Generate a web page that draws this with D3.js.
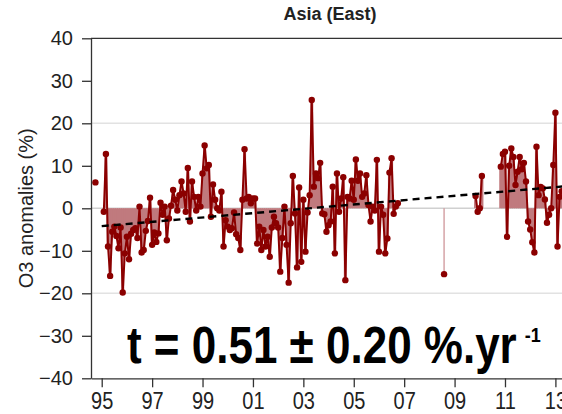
<!DOCTYPE html>
<html>
<head>
<meta charset="utf-8">
<script src="https://cdn.jsdelivr.net/npm/d3@7"></script>
<style>
  html, body { margin: 0; padding: 0; background: #fff; }
  svg { display: block; font-family: "Liberation Sans", Arial, Helvetica, sans-serif; }
</style>
</head>
<body>
<svg id="chart" width="562" height="414"></svg>
<script>
// Monthly ozone anomalies (%), series starts October 1994; null = no observation
const seriesStart = { year: 1994, month: 10 };
const anomalies = [
  /* 1994 Oct-Dec */ 6.1, null, null,
  /* 1995 */ null, -0.8, 12.8, -9.0, -15.9, -5.5, -4.3, -6.5, -9.4, -4.5, -19.8, -10.6,
  /* 1996 */ -6.7, -12.0, -6.0, -5.1, -4.7, -7.0, 0.4, -10.4, -9.8, -5.3, -3.0, 2.5,
  /* 1997 */ -8.6, -5.7, -7.9, -5.9, 1.3, -1.5, 0.4, -7.5, -2.4, 0.6, 4.3, 2.0,
  /* 1998 */ -0.5, 3.1, 6.3, 3.5, -0.8, 9.5, -3.1, 6.3, 2.7, -0.5, 2.7, 0.4,
  /* 1999 */ 8.2, 14.8, 9.4, 10.2, -2.0, 5.6, 2.0, 0.0, -0.5, 3.9, -9.0, -2.8,
  /* 2000 */ -4.3, -5.1, -4.7, -1.0, -6.1, -7.0, -9.8, 2.0, 13.9, 2.3, 2.7, 1.2,
  /* 2001 */ 2.3, 2.3, -8.3, -4.3, -9.8, -5.1, -9.0, -6.7, -11.4, -4.5, -2.0, -3.5,
  /* 2002 */ -4.5, -14.9, -7.0, 0.4, -8.6, -17.5, -3.5, 7.6, -1.2, -13.9, 4.9, -12.6,
  /* 2003 */ 2.0, -10.2, -1.0, 3.1, 25.5, 5.1, 8.2, 7.1, 10.7, -1.2, -1.4, -5.5,
  /* 2004 */ -4.0, -3.1, 5.1, -10.6, 8.2, -0.8, 2.3, 7.3, -16.9, 2.7, 2.3, 6.5,
  /* 2005 */ 2.0, 11.5, 6.5, 8.2, 2.7, 3.5, 7.8, 0.8, -3.1, 0.4, -0.5, 11.4,
  /* 2006 */ -10.2, 0.4, -1.5, -10.6, -7.1, 8.4, 11.8, -1.3, 0.4, 1.2, null, null,
  /* 2007 */ null, null, null, null, null, null, null, null, null, null, null, null,
  /* 2008 */ null, null, null, null, null, null, null, -15.5, null, null, null, null,
  /* 2009 */ null, null, null, null, null, null, null, null, null, null, 2.9, -0.8,
  /* 2010 */ 0.0, 7.6, null, null, null, null, null, null, null, null, 9.8, 12.8,
  /* 2011 */ 13.3, -6.7, 10.0, 14.1, 12.1, 5.5, 8.6, 12.1, 9.2, 10.7, 6.3, -3.1,
  /* 2012 */ -5.0, -8.0, -10.4, 14.5, 3.1, 5.0, 4.7, 2.1, -3.4, -1.5, 0.0, 10.2,
  /* 2013 */ 22.5, -9.0, 2.7, 4.0
];

// Linear trend fitted from 1995: value at 1995.0 and slope (%/yr)
const trendStart = 1995;
const trendIntercept = -4.2;
const trendSlope = 0.51;
const trendUncertainty = 0.20;

const title = "Asia (East)";
const yLabel = "O3 anomalies (%)";
const yTicks = [-40, -30, -20, -10, 0, 10, 20, 30, 40];
const yGrid = [-20, 0, 20];
const xTickYears = [1995, 1997, 1999, 2001, 2003, 2005, 2007, 2009, 2011, 2013];

const data = anomalies.map((v, i) => ({
  t: seriesStart.year + (seriesStart.month - 1 + i) / 12,
  v: v,
  isolated: v !== null && (anomalies[i - 1] == null) && (anomalies[i + 1] == null)
}));

const svg = d3.select("#chart");
const plotLeft = 91, plotTop = 38.3, plotBottom = 378.3, plotRight = 568;

const x = d3.scaleLinear().domain([1994.575, 2013.5]).range([plotLeft, plotRight]);
const y = d3.scaleLinear().domain([-40, 40]).range([plotBottom, plotTop]);

svg.append("defs").append("clipPath").attr("id", "plotClip")
  .append("rect").attr("x", plotLeft).attr("y", plotTop)
  .attr("width", plotRight - plotLeft).attr("height", plotBottom - plotTop);

// horizontal reference lines
svg.append("g").selectAll("line").data(yGrid).join("line")
  .attr("x1", plotLeft).attr("x2", plotRight)
  .attr("y1", d => y(d)).attr("y2", d => y(d))
  .attr("stroke", d => d === 0 ? "#d0d0d0" : "#e2e2e2")
  .attr("stroke-width", 1.6);

const plot = svg.append("g").attr("clip-path", "url(#plotClip)");

// shaded anomaly columns from zero
const step = x(1 / 12) - x(0);
plot.append("g").selectAll("line")
  .data(data.filter(d => d.v !== null && d.t >= trendStart))
  .join("line")
  .attr("x1", d => x(d.t)).attr("x2", d => x(d.t))
  .attr("y1", y(0)).attr("y2", d => y(d.v))
  .attr("stroke", d => d.isolated ? "#cf9599" : "#c07a7e")
  .attr("stroke-width", d => d.isolated ? 1.3 : step + 1);

// monthly series
const line = d3.line().defined(d => d.v !== null).x(d => x(d.t)).y(d => y(d.v));
plot.append("path").datum(data).attr("d", line)
  .attr("fill", "none").attr("stroke", "#8b0000").attr("stroke-width", 2)
  .attr("stroke-linejoin", "round");

plot.append("g").selectAll("circle")
  .data(data.filter(d => d.v !== null)).join("circle")
  .attr("cx", d => x(d.t)).attr("cy", d => y(d.v)).attr("r", 3.2)
  .attr("fill", "#8b0000");

// trend line
const trendYears = [trendStart, 2013.5];
plot.append("path")
  .datum(trendYears)
  .attr("d", d3.line().x(t => x(t)).y(t => y(trendIntercept + trendSlope * (t - trendStart))))
  .attr("fill", "none").attr("stroke", "#000").attr("stroke-width", 2.4)
  .attr("stroke-dasharray", "7,5");

// frame top edge
svg.append("line").attr("x1", plotLeft).attr("x2", plotRight)
  .attr("y1", plotTop).attr("y2", plotTop)
  .attr("stroke", "#333").attr("stroke-width", 1.3);

const yAxis = svg.append("g").attr("transform", `translate(${plotLeft},0)`)
  .call(d3.axisLeft(y).tickValues(yTicks).tickSize(9).tickPadding(9).tickSizeOuter(0));
const xAxis = svg.append("g").attr("transform", `translate(0,${plotBottom})`)
  .call(d3.axisBottom(x).tickValues(xTickYears).tickSize(9).tickPadding(2).tickSizeOuter(0)
    .tickFormat(d => String(d % 100).padStart(2, "0")));

[yAxis, xAxis].forEach(g => {
  g.selectAll(".domain").attr("stroke", "#333").attr("stroke-width", 1.3);
  g.selectAll(".tick line").attr("stroke", "#333").attr("stroke-width", 1.3);
  g.selectAll("text").attr("font-size", 20).attr("fill", "#222")
    .attr("font-family", "'Liberation Sans', Arial, sans-serif");
});
// year labels are drawn slightly taller than they are wide
xAxis.selectAll(".tick text").attr("transform", "scale(1,1.2)");

// titles
svg.append("text").attr("x", 330).attr("y", 20).attr("text-anchor", "middle")
  .attr("font-size", 18).attr("font-weight", "bold").attr("fill", "#222").text(title);

svg.append("text")
  .attr("transform", `translate(33,${(plotTop + plotBottom) / 2}) rotate(-90)`)
  .attr("text-anchor", "middle").attr("font-size", 20).attr("fill", "#222")
  .text(yLabel);

// trend annotation
const note = svg.append("text")
  .attr("transform", "translate(127,363) scale(1,1.17)")
  .attr("font-size", 44).attr("font-weight", "bold").attr("fill", "#000");
note.append("tspan")
  .text(`t = ${trendSlope.toFixed(2)} ± ${trendUncertainty.toFixed(2)} %.yr`);
note.append("tspan").attr("font-size", 18).attr("dx", 8).attr("dy", -18).text("-1");
</script>
</body>
</html>
